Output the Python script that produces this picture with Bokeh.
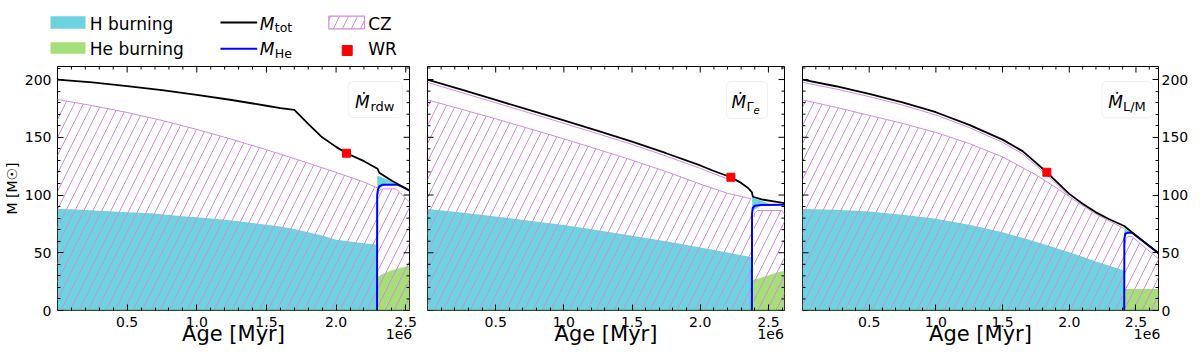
import numpy as np
from bokeh.plotting import figure
from bokeh.models import Range1d, FixedTicker, LinearAxis, BoxAnnotation, CustomJSTickFormatter
from bokeh.core.properties import value
from bokeh.layouts import column, row
from bokeh.embed import file_html
from bokeh.resources import INLINE

FONT = "DejaVu Sans"
C_H = "#6dd3df"
C_HE = "#a6df78"
C_CZ = "#d08ce0"
C_BLUE = "#0000ff"
C_TOT = "black"
C_WR = "#ff0000"
C_BASE = "#2a7a2a"

# ---------------- data (ages in Myr, masses in Msun) ----------------
# Panel 1: Mdot_rdw
rdw_t_tot = [0, 0.25, 0.5, 0.75, 1.0, 1.25, 1.5, 1.6, 1.7, 1.8, 1.9, 2.0, 2.075, 2.2, 2.298, 2.31, 2.4, 2.527]
rdw_m_tot = [200, 197.5, 194.3, 190.8, 186.8, 182.3, 177.3, 175.3, 173.8, 161.6, 150, 141.7, 136.2, 129.3, 122.7, 119.3, 112.3, 103.9]
rdw_t_cz = [0, 0.25, 0.5, 0.75, 1.0, 1.25, 1.5, 1.75, 2.0, 2.2, 2.294]
rdw_m_cz = [182.7, 177.4, 171.5, 164.6, 156.8, 148.3, 139.2, 129.6, 119.6, 111.2, 106.3]
rdw_t_cz2 = [2.303, 2.306, 2.32, 2.34, 2.43, 2.46, 2.527]
rdw_m_cz2 = [100.5, 103, 104.8, 105.3, 105.3, 102, 93.8]
rdw_t_h = [0, 0.1, 0.2, 0.3, 0.4, 0.5, 0.6, 0.7, 0.8, 0.9, 1.0, 1.1, 1.2, 1.3, 1.4, 1.5, 1.6, 1.7, 1.8, 1.9, 2.0, 2.1, 2.2, 2.294]
rdw_m_h = [88, 87.6, 87, 86.4, 85.8, 85.1, 84.6, 84, 82.8, 81.6, 80.8, 79.7, 78.5, 77.2, 75.8, 74.3, 72.8, 70.5, 67.7, 64.9, 61.3, 59.8, 58.2, 56.9]
rdw_t_he = [2.296, 2.33, 2.39, 2.46, 2.527]
rdw_m_he = [29, 31.5, 34.5, 37, 38.4]
rdw_t_core = [2.294, 2.295, 2.3, 2.31, 2.334, 2.44, 2.48, 2.527]
rdw_m_core = [0, 100, 104.5, 107.5, 109, 109, 106.8, 103.9]
rdw_t_shell = [2.296, 2.35, 2.4, 2.44]
rdw_m_shell_top = [117, 114.3, 111.5, 109]
rdw_m_shell_bot = [104, 109, 109, 109]
rdw_t_wr = [2.075]
rdw_m_wr = [136.2]

# Panel 2: Mdot_Gamma_e
ge_t_tot = [0, 0.25, 0.5, 0.75, 1.0, 1.25, 1.5, 1.75, 2.0, 2.1, 2.225, 2.3, 2.35, 2.379, 2.386, 2.45, 2.55, 2.618]
ge_m_tot = [200, 191.2, 182.4, 173.5, 164.6, 155.5, 146.3, 136.2, 125.6, 120.8, 115.4, 110.5, 106.2, 102.4, 98.5, 96.2, 94.3, 92.9]
ge_t_surf = [0, 0.25, 0.5, 0.75, 1.0, 1.25, 1.5, 1.75, 2.0, 2.1, 2.225]
ge_m_surf = [197.5, 188.7, 179.9, 171, 162.1, 153, 143.8, 133.7, 123.1, 118.3, 112.9]
ge_t_cz = [0, 0.25, 0.5, 0.75, 1.0, 1.25, 1.5, 1.75, 2.0, 2.2, 2.375]
ge_m_cz = [182.4, 174.3, 166, 157.4, 148.6, 139.5, 130.2, 120.3, 109.5, 101.5, 96.7]
ge_t_cz2 = [2.395, 2.4, 2.42, 2.6, 2.618]
ge_m_cz2 = [81, 84.5, 86.6, 86.6, 83.2]
ge_t_h = [0, 0.25, 0.5, 0.75, 1.0, 1.25, 1.5, 1.75, 2.0, 2.2, 2.379]
ge_m_h = [88, 84.8, 81.3, 77.8, 74.1, 69.6, 64.8, 59.9, 54.5, 50.2, 46.2]
ge_t_he = [2.381, 2.42, 2.5, 2.56, 2.618]
ge_m_he = [26.5, 27.5, 30.4, 32.8, 34.3]
ge_t_core = [2.379, 2.38, 2.385, 2.4, 2.45, 2.618]
ge_m_core = [0, 84, 88.8, 90.7, 91.3, 91.5]
ge_t_shell = [2.381, 2.45, 2.5, 2.53]
ge_m_shell_top = [97.8, 95, 92.6, 91.5]
ge_m_shell_bot = [86, 91.3, 91.4, 91.5]
ge_t_wr = [2.225]
ge_m_wr = [115.4]

# Panel 3: Mdot_L/M
lm_t_tot = [0, 0.25, 0.5, 0.75, 1.0, 1.25, 1.5, 1.65, 1.832, 2.0, 2.1, 2.2, 2.3, 2.412, 2.44, 2.47, 2.55, 2.669]
lm_m_tot = [200, 194.2, 187.6, 180.3, 171.7, 160.8, 148, 138, 119.7, 101, 92.5, 85, 79, 73.2, 70.6, 67.8, 60.5, 49.6]
lm_t_surf = [0, 0.25, 0.5, 0.75, 1.0, 1.25, 1.5, 1.65, 1.832, 2.0]
lm_m_surf = [197.6, 191.8, 185.2, 177.9, 169.3, 158.4, 145.6, 135.6, 117.4, 99]
lm_t_cz = [0, 0.25, 0.5, 0.75, 1.0, 1.25, 1.5, 1.75, 1.9, 2.0, 2.2, 2.41]
lm_m_cz = [182.4, 176, 169, 162, 154.2, 144.6, 133, 117.5, 106.5, 98.5, 83.5, 71]
lm_t_cz2 = [2.418, 2.425, 2.44, 2.47, 2.669]
lm_m_cz2 = [58, 62, 64, 64, 44.7]
lm_t_h = [0, 0.25, 0.5, 0.75, 1.0, 1.25, 1.5, 1.75, 2.0, 2.2, 2.412]
lm_m_h = [88, 87.2, 85.8, 83, 79.4, 74.2, 67.8, 59.5, 50.5, 42.5, 34.6]
lm_t_he = [2.414, 2.669]
lm_m_he = [18.7, 18.7]
lm_t_core = [2.412, 2.413, 2.42, 2.44, 2.47, 2.669]
lm_m_core = [0, 62, 66.5, 67.4, 67.4, 49.6]
lm_t_shell = [2.414, 2.44, 2.455]
lm_m_shell_top = [71.5, 69.5, 67.6]
lm_m_shell_bot = [64, 67.4, 67.4]
lm_t_wr = [1.832]
lm_m_wr = [119.7]

# axes
Y_MAX = 211.3
y_major = [0, 50, 100, 150, 200]
y_minor = [10, 20, 30, 40, 60, 70, 80, 90, 110, 120, 130, 140, 160, 170, 180, 190, 210]
x_major = [0.5, 1.0, 1.5, 2.0, 2.5]
x_minor = [0.1, 0.2, 0.3, 0.4, 0.6, 0.7, 0.8, 0.9, 1.1, 1.2, 1.3, 1.4, 1.6, 1.7, 1.8, 1.9,
           2.1, 2.2, 2.3, 2.4, 2.6]
x_label = "Age [Myr]"
x_offset_label = "1e6"
y_label = "M [M☉]"

# layout (pixels)
FRAME_H = 244
TOP = 5
BOTTOM = 47
LEG_H = 61
MAJ = 6
MIN = 3
K_BASE = 0.3   # baseline correction (fraction of font size)
NB = "\u00a0"


def tx(fig, x, y, s, size, style="normal", align="left"):
    r = fig.text(x=[x], y=[y], text=[s], text_font=value(FONT), text_font_size=value(f"{size}px"),
                 text_font_style=value(style), text_color="black",
                 text_align=value(align), text_baseline=value("alphabetic"))
    r.level = "overlay"
    return r


def style_axis(ax, ticker):
    ax.ticker = ticker
    ax.axis_line_color = None
    ax.major_tick_in = MAJ
    ax.major_tick_out = 0
    ax.minor_tick_in = MIN
    ax.minor_tick_out = 0
    ax.major_tick_line_color = "black"
    ax.minor_tick_line_color = "black"
    ax.major_label_text_font = FONT
    ax.major_label_text_font_size = "14px"
    ax.major_label_text_color = "black"


def make_panel(t_tot, m_tot, t_cz, m_cz, t_cz2, m_cz2, t_h, m_h, t_he, m_he,
               t_core, m_core, t_shell, m_sh_top, m_sh_bot, t_wr, m_wr,
               t_surf, m_surf, bl, fw, br, ylab, box, txt, pad):
    xmax = t_tot[-1]
    dx = xmax / fw
    dy = Y_MAX / FRAME_H
    p = figure(width=bl + fw + br, height=TOP + FRAME_H + BOTTOM,
               x_range=Range1d(0, xmax), y_range=Range1d(0, Y_MAX),
               toolbar_location=None, output_backend="svg",
               x_axis_location=None, y_axis_location=None,
               min_border_left=bl, min_border_right=br,
               min_border_top=TOP, min_border_bottom=BOTTOM,
               outline_line_color="black", outline_line_width=1,
               background_fill_color="white", border_fill_color="white")
    p.grid.visible = False

    # bottom axis: last tick label carries the "1e6" offset text on a second line
    a, b, c = pad
    xb = LinearAxis()
    p.add_layout(xb, "below")
    style_axis(xb, FixedTicker(ticks=x_major, minor_ticks=x_minor))
    xb.formatter = CustomJSTickFormatter(
        args=dict(last=x_major[-1], pa=NB * a, pb=NB * b, pc=NB * c, extra=x_offset_label),
        code="""
        const s = tick.toFixed(1);
        if (Math.abs(tick - last) < 1e-6) {
            return pa + s + pa + "\\n" + pb + extra + pc;
        }
        return s;
        """)
    xb.major_label_standoff = 3
    xb.major_label_text_line_height = 0.75
    xb.axis_label = x_label
    xb.axis_label_text_font = FONT
    xb.axis_label_text_font_size = "21px"
    xb.axis_label_text_font_style = "normal"
    xb.axis_label_text_color = "black"
    xb.axis_label_standoff = -23

    if ylab == "left":
        ya = LinearAxis()
        p.add_layout(ya, "left")
        style_axis(ya, FixedTicker(ticks=y_major, minor_ticks=y_minor))
        ya.major_label_standoff = 6
        ya.axis_label = y_label
        ya.axis_label_text_font = FONT
        ya.axis_label_text_font_size = "14px"
        ya.axis_label_text_font_style = "normal"
        ya.axis_label_text_color = "black"
        ya.axis_label_standoff = 2
    elif ylab == "right":
        ya = LinearAxis()
        p.add_layout(ya, "right")
        style_axis(ya, FixedTicker(ticks=y_major, minor_ticks=y_minor))
        ya.major_label_standoff = 3

    # H burning, He burning
    p.varea(x=t_h, y1=0, y2=m_h, fill_color=C_H)
    p.varea(x=t_he, y1=0, y2=m_he, fill_color=C_HE)
    # convective zones (hatched)
    for t, m in ((t_cz, m_cz), (t_cz2, m_cz2)):
        p.varea(x=t, y1=0, y2=m, fill_alpha=0, hatch_pattern="/",
                hatch_color=C_CZ, hatch_scale=18, hatch_weight=1)
        p.line(t, m, line_color=C_CZ, line_width=1)
    if t_surf is not None:
        p.line(t_surf, m_surf, line_color=C_CZ, line_width=1)
    # H shell burning
    p.varea(x=t_shell, y1=m_sh_bot, y2=m_sh_top, fill_color=C_H)
    # base line
    p.line([t_tot[0], t_tot[-1]], [0, 0], line_color=C_BASE, line_width=1.5)
    # masses
    p.line(t_core, m_core, line_color=C_BLUE, line_width=2)
    p.line(t_tot, m_tot, line_color=C_TOT, line_width=1.8)
    p.scatter(t_wr, m_wr, marker="square", size=8, fill_color=C_WR, line_color=C_WR)

    # inward ticks on the sides without an axis
    xt_major = [v for v in x_major if v < xmax]
    xt_minor = [v for v in x_minor if v < xmax]
    p.segment(x0=xt_major, y0=[Y_MAX] * len(xt_major), x1=xt_major,
              y1=[Y_MAX - MAJ * dy] * len(xt_major), line_color="black", line_width=1)
    p.segment(x0=xt_minor, y0=[Y_MAX] * len(xt_minor), x1=xt_minor,
              y1=[Y_MAX - MIN * dy] * len(xt_minor), line_color="black", line_width=1)
    sides = []
    if ylab != "left":
        sides.append((0, 1))
    if ylab != "right":
        sides.append((xmax, -1))
    for xs, sgn in sides:
        p.segment(x0=[xs] * len(y_major), y0=y_major, x1=[xs + sgn * MAJ * dx] * len(y_major),
                  y1=y_major, line_color="black", line_width=1)
        p.segment(x0=[xs] * len(y_minor), y0=y_minor, x1=[xs + sgn * MIN * dx] * len(y_minor),
                  y1=y_minor, line_color="black", line_width=1)

    # annotation box (offsets in px from frame top-right)
    L, R, T, B = box
    bx = BoxAnnotation(left=xmax + L * dx, right=xmax + R * dx,
                       top=Y_MAX - T * dy, bottom=Y_MAX - B * dy,
                       fill_color="white", fill_alpha=0.8,
                       line_color="#cccccc", line_width=1,
                       border_radius=5, level="underlay")
    p.add_layout(bx)
    for (s, xo, yo, size, style) in txt:
        tx(p, xmax + xo * dx, Y_MAX - (yo - K_BASE * size) * dy, s, size, style)
    return p


p1 = make_panel(rdw_t_tot, rdw_m_tot, rdw_t_cz, rdw_m_cz, rdw_t_cz2, rdw_m_cz2,
                rdw_t_h, rdw_m_h, rdw_t_he, rdw_m_he, rdw_t_core, rdw_m_core,
                rdw_t_shell, rdw_m_shell_top, rdw_m_shell_bot, rdw_t_wr, rdw_m_wr,
                None, None, 53, 356, 18, "left",
                (-62, -7, 15, 51),
                [("Ṁ", -55, 40.7, 17, "italic"),
                 ("rdw", -39.5, 44, 13, "normal")],
                (2, 0, 3))
p2 = make_panel(ge_t_tot, ge_m_tot, ge_t_cz, ge_m_cz, ge_t_cz2, ge_m_cz2,
                ge_t_h, ge_m_h, ge_t_he, ge_m_he, ge_t_core, ge_m_core,
                ge_t_shell, ge_m_shell_top, ge_m_shell_bot, ge_t_wr, ge_m_wr,
                ge_t_surf, ge_m_surf, 0, 357, 9, None,
                (-58, -17, 15, 52),
                [("Ṁ", -53, 40.7, 17, "italic"),
                 ("Γ", -38, 44, 13, "normal"),
                 ("e", -31, 46.7, 10, "italic")],
                (3, 3, 2))
p3 = make_panel(lm_t_tot, lm_m_tot, lm_t_cz, lm_m_cz, lm_t_cz2, lm_m_cz2,
                lm_t_h, lm_m_h, lm_t_he, lm_m_he, lm_t_core, lm_m_core,
                lm_t_shell, lm_m_shell_top, lm_m_shell_bot, lm_t_wr, lm_m_wr,
                lm_t_surf, lm_m_surf, 9, 356, 42, "right",
                (-56.6, -5.6, 15, 51.3),
                [("Ṁ", -50.3, 40.7, 17, "italic"),
                 ("L/M", -35.6, 44, 13, "normal")],
                (3, 5, 0))

# ---------------- legend (manual, page pixel coordinates) ----------------
leg = figure(width=1200, height=LEG_H, x_range=Range1d(0, 1200), y_range=Range1d(LEG_H, 0),
             toolbar_location=None, output_backend="svg",
             x_axis_location=None, y_axis_location=None, min_border=0,
             outline_line_color=None, background_fill_color="white",
             border_fill_color="white")
leg.grid.visible = False
leg.quad(left=50, right=85, top=15.7, bottom=28.3, fill_color=C_H, line_color=None)
leg.quad(left=50, right=85, top=41.7, bottom=53.3, fill_color=C_HE, line_color=None)
leg.line([220, 256.7], [22, 22], line_color=C_TOT, line_width=2)
leg.line([220, 256.7], [48.3, 48.3], line_color=C_BLUE, line_width=2)
leg.quad(left=328.3, right=364, top=15.7, bottom=28.3, fill_alpha=0, line_color=C_CZ,
         line_width=1.2, hatch_pattern="/", hatch_color=C_CZ, hatch_scale=18, hatch_weight=1)
leg.scatter([346.7], [50], marker="square", size=10, fill_color=C_WR, line_color=C_WR)


def ltx(fig, x, y, s, size, style="normal", align="left"):
    tx(fig, x, y - K_BASE * size, s, size, style, align)


ltx(leg, 89.3, 28.3, "H burning", 17)
ltx(leg, 89.3, 53.3, "He burning", 17)
ltx(leg, 259.3, 28.3, "M", 17, "italic")
ltx(leg, 274.3, 31.0, "tot", 12.5)
ltx(leg, 259.3, 53.3, "M", 17, "italic")
ltx(leg, 274.3, 56.5, "He", 12.5)
ltx(leg, 367.7, 28.3, "CZ", 17)
ltx(leg, 367.7, 53.3, "WR", 17)

layout = column(leg, row(p1, p2, p3))
open("out.html", "w").write(file_html(layout, INLINE))
